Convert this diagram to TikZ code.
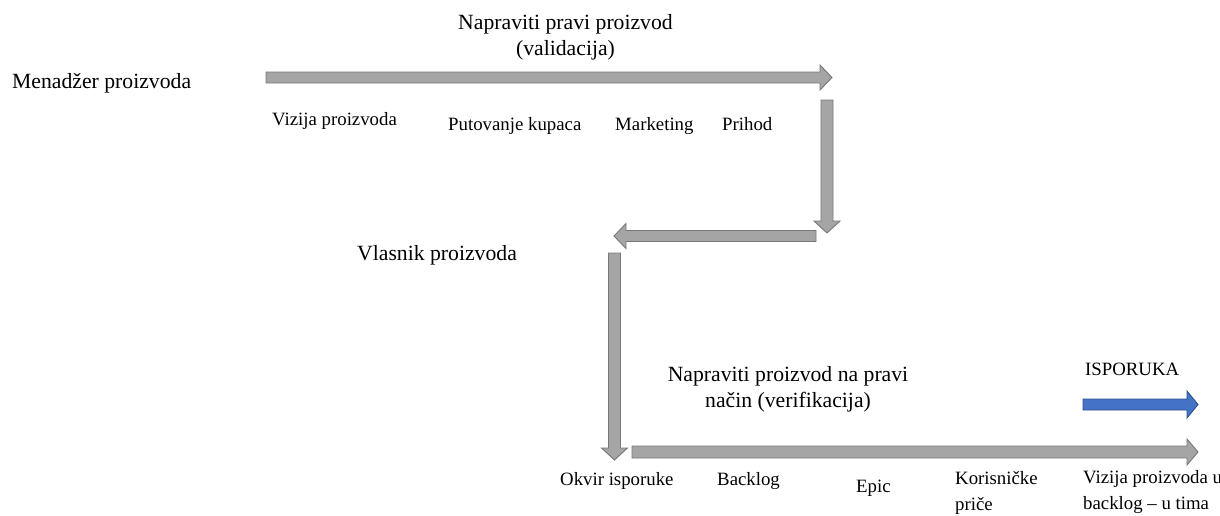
\documentclass[tikz,border=0pt]{standalone}
\usepackage{fontspec}
\setmainfont{Liberation Serif}
\definecolor{arrfill}{HTML}{A5A5A5}
\definecolor{arrdraw}{HTML}{787878}
\definecolor{bluefill}{HTML}{4472C4}
\definecolor{bluedraw}{HTML}{2F528F}
\newcommand{\blkLeft}[6]{% x1(start),x2(tip),y,s,h,style
  \draw[#6] (#1,#3-#4) -- (#2+12,#3-#4) -- (#2+12,#3-#5) -- (#2,#3) -- (#2+12,#3+#5) -- (#2+12,#3+#4) -- (#1,#3+#4) -- cycle;}
\newcommand{\blkDown}[6]{% x,y1,y2(tip),s,h,style
  \draw[#6] (#1-#4,#2) -- (#1-#4,#3-12) -- (#1-#5,#3-12) -- (#1,#3) -- (#1+#5,#3-12) -- (#1+#4,#3-12) -- (#1+#4,#2) -- cycle;}
\begin{document}
\begin{tikzpicture}[x=1pt,y=-1pt,
  grayarrow/.style={fill=arrfill,draw=arrdraw,line width=0.9pt,line join=miter},
  bluearrow/.style={fill=bluefill,draw=bluedraw,line width=0.9pt,line join=miter},
  big/.style={font=\fontsize{21.7}{26}\selectfont,inner sep=0pt},
  small/.style={font=\fontsize{18.8}{25.5}\selectfont,inner sep=0pt}]
\useasboundingbox (0,0) rectangle (1220,515);
% right arrow 1
\draw[grayarrow] (266,72) -- (820,72) -- (820,65) -- (832,77.5) -- (820,90) -- (820,83) -- (266,83) -- cycle;
% down arrow 2
\blkDown{827}{100}{233}{6}{13}{grayarrow}
% left arrow 3
\blkLeft{816}{614}{236}{5.5}{12.5}{grayarrow}
% down arrow 4
\blkDown{614.5}{253}{460}{6}{13}{grayarrow}
% right arrow 5
\draw[grayarrow] (632,446) -- (1187,446) -- (1187,439) -- (1198,452) -- (1187,465) -- (1187,458) -- (632,458) -- cycle;
% blue arrow
\draw[bluearrow] (1083,399) -- (1187,399) -- (1187,391) -- (1198,404.5) -- (1187,418) -- (1187,410) -- (1083,410) -- cycle;
% texts
\node[big,anchor=base west] (mp) at (12,88) {Menadžer proizvoda};
\node[big,anchor=base,align=center] (npp) at (565.5,55) {Napraviti pravi proizvod\\(validacija)};
\node[small,anchor=base west] (vp) at (272,125) {Vizija proizvoda};
\node[small,anchor=base west] (pk) at (448,130) {Putovanje kupaca};
\node[small,anchor=base west] (mk) at (615,130) {Marketing};
\node[small,anchor=base west] (ph) at (722,130) {Prihod};
\node[big,anchor=base west] (vl) at (357,260) {Vlasnik proizvoda};
\node[big,anchor=base,align=center] (npn) at (788,407) {Napraviti proizvod na pravi\\način (verifikacija)};
\node[small,anchor=base west] (isp) at (1085,375) {ISPORUKA};
\node[small,anchor=base west] (oi) at (560,485) {Okvir isporuke};
\node[small,anchor=base west] (bl) at (717,485) {Backlog};
\node[small,anchor=base west] (ep) at (856,492) {Epic};
\node[small,anchor=base west,align=left] (kp) at (955,510) {Korisničke\\priče};
\node[small,anchor=base west,align=left] (vpu) at (1083,509) {Vizija proizvoda u\\backlog – u tima};
\end{tikzpicture}
\end{document}
